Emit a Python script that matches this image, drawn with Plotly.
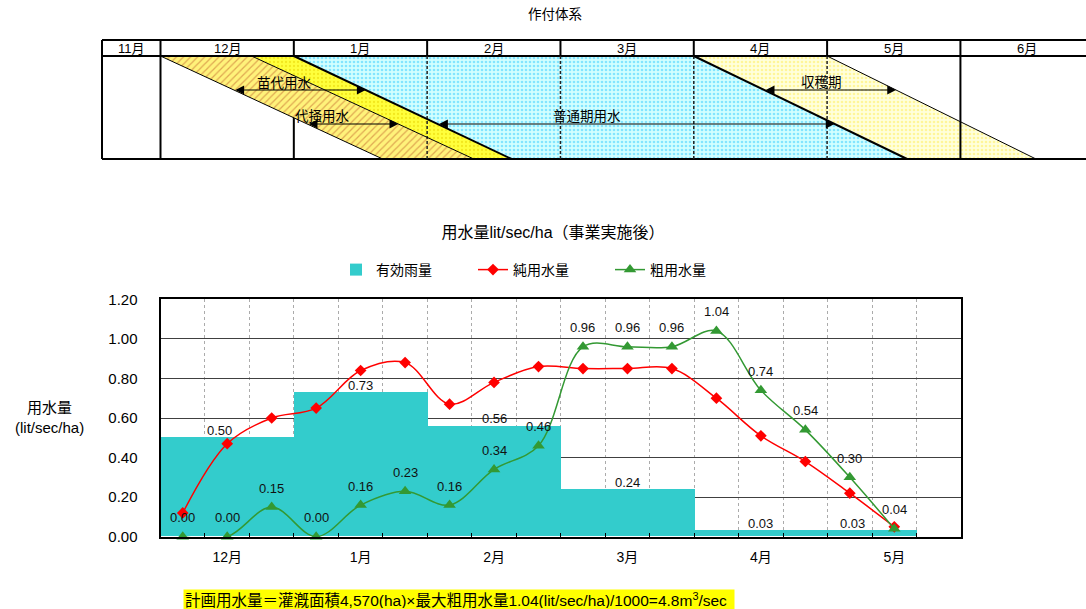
import plotly.graph_objects as go

FONT = "Liberation Sans, Arial, Noto Sans CJK JP, sans-serif"

# ---- water-use chart data (one value per 10-day period, Dec - mid May) ----
months = ["12月", "1月", "2月", "3月", "4月", "5月"]
rain = [0.50, 0.73, 0.56, 0.24, 0.03, 0.03]          # effective rainfall per month
rain_decades = [3, 3, 3, 3, 3, 2]                       # 10-day periods covered
net_use = [0.12, 0.47, 0.60, 0.65, 0.84, 0.88, 0.67, 0.78, 0.86,
           0.85, 0.85, 0.85, 0.70, 0.51, 0.38, 0.22, 0.05]
gross_use = [0.00, 0.00, 0.15, 0.00, 0.16, 0.23, 0.16, 0.34, 0.46,
             0.96, 0.96, 0.96, 1.04, 0.74, 0.54, 0.30, 0.04]

# ---- cropping calendar ----
schedule_months = ["11月", "12月", "1月", "2月", "3月", "4月", "5月", "6月"]
# stage boundaries (in 10-day periods from 1 Dec): x at top / bottom of the band
edges = {
    "A": (0.0, 5.0),
    "B": (2.05, 7.05),
    "C": (3.0, 7.9),
    "D": (12.0, 16.8),
    "E": (15.0, 19.7),
}

W, H = 1086, 609
X0_PX, DEC_PX = 160.5, 44.44          # pixel of 1 Dec and width of one 10-day period
TOP, HDR, BOT = 40, 56, 159           # calendar rows (px from top)
LEFT = (102 - X0_PX) / DEC_PX         # left edge of the 11月 column


def edge_x(name, y):
    top, bot = edges[name]
    return top + (bot - top) * (y - HDR) / (BOT - HDR)


fig = go.Figure()

# ---- bars and lines ----
bar_x = [3 * i + d / 2 for i, d in enumerate(rain_decades)]
dec_x = [i + 0.5 for i in range(len(net_use))]

fig.add_trace(go.Bar(x=bar_x, y=rain, width=rain_decades, name="有効雨量",
                     marker=dict(color="#33CCCC", line=dict(width=0)),
                     xaxis="x", yaxis="y"))
fig.add_trace(go.Scatter(x=dec_x, y=net_use, name="純用水量", mode="lines+markers",
                         line=dict(color="#FF0000", width=1.5, shape="spline", smoothing=1),
                         marker=dict(symbol="diamond", size=9, color="#FF0000"),
                         cliponaxis=False, xaxis="x", yaxis="y"))
fig.add_trace(go.Scatter(x=dec_x, y=gross_use, name="粗用水量", mode="lines+markers",
                         line=dict(color="#339933", width=1.5, shape="spline", smoothing=1),
                         marker=dict(symbol="triangle-up", size=11, color="#339933"),
                         cliponaxis=False, xaxis="x", yaxis="y"))

annotations = []
label_font = dict(family=FONT, size=13, color="#111")
bar_label_dx = [-0.18, 0, 0, 0, 0, -0.45]
for bx, v, dx in zip(bar_x, rain, bar_label_dx):
    annotations.append(dict(x=bx + dx, y=v, xref="x", yref="y", text=f"{v:.2f}",
                            showarrow=False, yshift=7, font=label_font))
for gx, v in zip(dec_x, gross_use):
    annotations.append(dict(x=gx, y=v, xref="x", yref="y", text=f"{v:.2f}",
                            showarrow=False, yshift=19, font=label_font))

# ---- cropping calendar: patterned stage bands ----
bands = [
    ("A", "B", dict(shape="/", fgcolor="#C0602A", bgcolor="#FFF27A", size=5, solidity=0.25)),
    ("B", "C", dict(shape=".", fgcolor="#E6D000", bgcolor="#FFFF3C", size=4, solidity=0.25)),
    ("C", "D", dict(shape=".", fgcolor="#33CCFF", bgcolor="#D2FFFF", size=4, solidity=0.35)),
    ("D", "E", dict(shape=".", fgcolor="#FFEE55", bgcolor="#FFFFDC", size=4, solidity=0.35)),
]
for left, right, pat in bands:
    fig.add_trace(go.Scatter(
        x=[edge_x(left, HDR), edge_x(right, HDR), edge_x(right, BOT), edge_x(left, BOT)],
        y=[HDR, HDR, BOT, BOT], fill="toself", mode="lines", line=dict(width=0),
        fillcolor=pat["bgcolor"], fillpattern=pat, showlegend=False, hoverinfo="skip",
        xaxis="x2", yaxis="y2"))

shapes = []
xr_end = (W - X0_PX) / DEC_PX + 0.2
for y in (TOP, HDR, BOT):
    shapes.append(dict(type="line", xref="x2", yref="y2", x0=LEFT, x1=xr_end, y0=y, y1=y,
                       line=dict(color="black", width=2)))
col_edges = [LEFT] + [3 * k for k in range(7)]
for cx in col_edges:
    shapes.append(dict(type="line", xref="x2", yref="y2", x0=cx, x1=cx, y0=TOP, y1=HDR,
                       line=dict(color="black", width=2)))
    if cx in (6, 9, 12, 15):
        shapes.append(dict(type="line", xref="x2", yref="y2", x0=cx, x1=cx, y0=HDR, y1=BOT,
                           line=dict(color="#222", width=1.5, dash="3px,2px"), layer="above"))
    else:
        shapes.append(dict(type="line", xref="x2", yref="y2", x0=cx, x1=cx, y0=HDR, y1=BOT,
                           line=dict(color="black", width=2),
                           layer="below" if cx in (0, 3) else "above"))
for name, wdt in (("A", 1), ("B", 1), ("C", 2), ("D", 2), ("E", 1)):
    shapes.append(dict(type="line", xref="x2", yref="y2",
                       x0=edge_x(name, HDR), y0=HDR, x1=edge_x(name, BOT), y1=BOT,
                       line=dict(color="black", width=wdt)))

head_font = dict(family=FONT, size=13, color="black")
centers = [(LEFT + 0) / 2] + [1.5 + 3 * k for k in range(7)]
for m, cx in zip(schedule_months, centers):
    annotations.append(dict(x=cx, y=(TOP + HDR) / 2 + 0.5, xref="x2", yref="y2", text=m,
                            showarrow=False, font=head_font))

# stage arrows: (text, left edge, right edge, arrow row, text x in periods, text row)
stage_arrows = [
    ("苗代用水", "A", "C", 90, 2.80, 83),
    ("代掻用水", "A", "B", 124, 3.64, 116),
    ("普通期用水", "C", "D", 124, 9.60, 116),
    ("収穫期", "D", "E", 90, 14.88, 82),
]
stage_font = dict(family=FONT, size=13.5, color="black")
for txt, l, r, ay, tx, ty in stage_arrows:
    annotations.append(dict(x=edge_x(r, ay), y=ay, ax=edge_x(l, ay), ay=ay,
                            xref="x2", yref="y2", axref="x2", ayref="y2", text="",
                            showarrow=True, arrowhead=2, arrowside="end+start",
                            arrowsize=1.6, arrowwidth=1.1, arrowcolor="black"))
    annotations.append(dict(x=tx, y=ty, xref="x2", yref="y2", text=txt,
                            showarrow=False, font=stage_font))

annotations.append(dict(x=555 / W, y=1 - 15 / H, xref="paper", yref="paper", text="作付体系",
                        xanchor="center", yanchor="middle", showarrow=False,
                        font=dict(family=FONT, size=13.5, color="black")))

# axis title and footnote
annotations.append(dict(x=49 / W, y=1 - 417 / H, xref="paper", yref="paper",
                        xanchor="center", yanchor="middle",
                        text="用水量<br>(lit/sec/ha)", showarrow=False,
                        font=dict(family=FONT, size=15, color="black")))
annotations.append(dict(x=183 / W, y=1 - 599 / H, xref="paper", yref="paper",
                        xanchor="left", yanchor="middle", align="left", width=548, height=17,
                        bgcolor="#FFFF00", borderpad=1,
                        text="計画用水量＝灌漑面積4,570(ha)×最大粗用水量1.04(lit/sec/ha)/1000=4.8m<sup>3</sup>/sec",
                        showarrow=False, font=dict(family=FONT, size=15.5, color="black")))

fig.update_layout(
    width=W, height=H, margin=dict(l=0, r=0, t=0, b=0, autoexpand=False),
    paper_bgcolor="white", plot_bgcolor="rgba(0,0,0,0)",
    font=dict(family=FONT, color="black"),
    title=dict(text="用水量lit/sec/ha（事業実施後）", x=553 / W, xanchor="center",
               y=1 - 232 / H, yanchor="middle", font=dict(family=FONT, size=16, color="black")),
    showlegend=True,
    legend=dict(orientation="h", x=336 / W, xanchor="left", y=1 - 270 / H, yanchor="middle",
                font=dict(family=FONT, size=14, color="black"), bgcolor="rgba(0,0,0,0)",
                entrywidth=92, itemwidth=30, traceorder="normal"),
    xaxis=dict(domain=[X0_PX / W, 961 / W], range=[0, 18], anchor="y",
               tickmode="array", tickvals=[1.5 + 3 * k for k in range(len(months))],
               ticktext=months, ticks="", showgrid=False, zeroline=False,
               tickfont=dict(family=FONT, size=14, color="black"), ticklabelstandoff=6,
               showline=True, mirror=True, linecolor="black", linewidth=2,
               minor=dict(tick0=0, dtick=1, showgrid=True, gridcolor="#ABABAB",
                          griddash="dot", gridwidth=1, ticks="inside", ticklen=4,
                          tickcolor="black", tickwidth=1)),
    yaxis=dict(domain=[1 - 536.7 / H, 1 - 299.3 / H], range=[0, 1.2], anchor="x",
               dtick=0.2, tick0=0, tickformat=".2f", showgrid=True, gridcolor="#404040",
               gridwidth=1, zeroline=False, showline=True, mirror=True, linecolor="black",
               linewidth=2, ticks="", tickfont=dict(family=FONT, size=15, color="black"),
               ticklabelstandoff=18),
    xaxis2=dict(domain=[0, 1], range=[-X0_PX / DEC_PX, (W - X0_PX) / DEC_PX], anchor="y2",
                visible=False, fixedrange=True),
    yaxis2=dict(domain=[0, 1], range=[H, 0], anchor="x2", visible=False, fixedrange=True),
    shapes=shapes, annotations=annotations, bargap=0,
)

fig.write_html("out.html")
